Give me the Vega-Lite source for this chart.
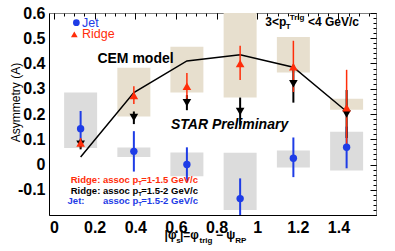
{
  "$schema": "https://vega.github.io/schema/vega-lite/v6.json",
  "width": 327,
  "height": 202,
  "autosize": {"type": "none"},
  "padding": {"left": 49, "top": 13, "right": 19, "bottom": 36},
  "background": "white",
  "config": {
    "font": "Liberation Sans",
    "view": {"stroke": "#808080", "strokeWidth": 1},
    "axis": {"grid": false}
  },
  "datasets": {
    "jet": [
      {"x": 0.131, "y": 0.142, "lo": 0.072, "hi": 0.212, "sysLo": 0.065, "sysHi": 0.285},
      {"x": 0.393, "y": 0.052, "lo": -0.028, "hi": 0.132, "sysLo": 0.03, "sysHi": 0.067},
      {"x": 0.654, "y": 0.0, "lo": -0.07, "hi": 0.068, "sysLo": -0.047, "sysHi": 0.048},
      {"x": 0.916, "y": -0.135, "lo": -0.2, "hi": -0.055, "sysLo": -0.18, "sysHi": 0.047},
      {"x": 1.178, "y": 0.025, "lo": -0.05, "hi": 0.107, "sysLo": -0.012, "sysHi": 0.055},
      {"x": 1.44, "y": 0.068, "lo": -0.015, "hi": 0.15, "sysLo": -0.024, "sysHi": 0.13}
    ],
    "ridgeA": [
      {"x": 0.131, "y": 0.085, "lo": 0.065, "hi": 0.105},
      {"x": 0.393, "y": 0.273, "lo": 0.24, "hi": 0.31, "sysLo": 0.19, "sysHi": 0.383},
      {"x": 0.654, "y": 0.31, "lo": 0.26, "hi": 0.362, "sysLo": 0.285, "sysHi": 0.466},
      {"x": 0.916, "y": 0.4, "lo": 0.335, "hi": 0.47, "sysLo": 0.265, "sysHi": 0.6},
      {"x": 1.178, "y": 0.387, "lo": 0.287, "hi": 0.49, "sysLo": 0.364, "sysHi": 0.505},
      {"x": 1.44, "y": 0.225, "lo": 0.075, "hi": 0.375, "sysLo": 0.217, "sysHi": 0.26}
    ],
    "ridgeB": [
      {"x": 0.131, "y": 0.08, "lo": 0.06, "hi": 0.1},
      {"x": 0.393, "y": 0.186, "lo": 0.16, "hi": 0.21},
      {"x": 0.654, "y": 0.245, "lo": 0.215, "hi": 0.275},
      {"x": 0.916, "y": 0.21, "lo": 0.155, "hi": 0.265},
      {"x": 1.178, "y": 0.32, "lo": 0.245, "hi": 0.395},
      {"x": 1.44, "y": 0.2, "lo": 0.105, "hi": 0.295}
    ],
    "cem": [
      {"x": 0.131, "y": 0.03},
      {"x": 0.393, "y": 0.285},
      {"x": 0.654, "y": 0.41},
      {"x": 0.916, "y": 0.435},
      {"x": 1.178, "y": 0.385},
      {"x": 1.44, "y": 0.21}
    ],
    "legendKeys": [
      {"series": "Jet", "x": 0.11, "y": 0.5616},
      {"series": "Ridge 1-1.5", "x": 0.1, "y": 0.515}
    ],
    "legendText": [
      {"series": "Jet", "text": "Jet", "x": 0.138, "y": 0.5616},
      {"series": "Ridge 1-1.5", "text": "Ridge", "x": 0.138, "y": 0.515}
    ],
    "modelText": [{"text": "CEM model", "x": 0.401, "y": 0.418}],
    "prelimText": [{"text": "STAR Preliminary", "x": 0.864, "y": 0.156}],
    "bigText": [
      {"text": "3<p", "x": 1.04, "y": 0.5485},
      {"text": "<4 GeV/c", "x": 1.25, "y": 0.5485},
      {"text": "|φ", "x": 0.544, "y": -0.295},
      {"text": "|=φ", "x": 0.62, "y": -0.295},
      {"text": "− ψ", "x": 0.797, "y": -0.295}
    ],
    "subText": [
      {"text": "T", "x": 1.14, "y": 0.5366},
      {"text": "Trig", "x": 1.16, "y": 0.5723},
      {"text": "s", "x": 0.601, "y": -0.311},
      {"text": "trig", "x": 0.716, "y": -0.311},
      {"text": "RP", "x": 0.892, "y": -0.311}
    ],
    "rowRight": [
      {"series": "Ridge 1-1.5", "text": "Ridge: assoc p", "x": 0.415, "y": -0.0614},
      {"series": "Ridge 1.5-2", "text": "Ridge: assoc p", "x": 0.415, "y": -0.105},
      {"series": "Jet", "text": "assoc p", "x": 0.415, "y": -0.1446}
    ],
    "rowLeft": [
      {"series": "Ridge 1-1.5", "text": "=1-1.5 GeV/c", "x": 0.429, "y": -0.0614},
      {"series": "Ridge 1.5-2", "text": "=1.5-2 GeV/c", "x": 0.429, "y": -0.105},
      {"series": "Jet", "text": "=1.5-2 GeV/c", "x": 0.429, "y": -0.1446},
      {"series": "Jet", "text": "Jet:", "x": 0.0668, "y": -0.1446}
    ],
    "rowSub": [
      {"series": "Ridge 1-1.5", "text": "T", "x": 0.415, "y": -0.0713},
      {"series": "Ridge 1.5-2", "text": "T", "x": 0.415, "y": -0.115},
      {"series": "Jet", "text": "T", "x": 0.415, "y": -0.1545}
    ]
  },
  "encoding": {
    "x": {"field": "x", "type": "quantitative", "scale": {"domain": [0, 1.56], "nice": false, "zero": false}, "axis": null},
    "y": {"field": "y", "type": "quantitative", "scale": {"domain": [-0.2, 0.6], "nice": false, "zero": false}, "axis": null}
  },
  "resolve": {"axis": {"x": "independent", "y": "independent"}},
  "layer": [
    {
      "data": {"name": "jet"},
      "mark": {"type": "bar", "orient": "vertical", "width": 33, "color": "#dcdcdc"},
      "encoding": {
        "x": {"field": "x", "type": "quantitative", "scale": {"domain": [0, 1.56], "nice": false, "zero": false},
          "axis": {"values": [0, 0.2, 0.4, 0.6, 0.8, 1, 1.2, 1.4], "format": ".1~f", "ticks": false, "labelFontSize": 16, "labelFontWeight": "bold", "labelColor": "black", "labelPadding": 4, "labelFlush": false, "labelOverlap": false, "domainColor": "black", "title": null, "grid": false}},
        "y": {"field": "sysLo", "type": "quantitative", "scale": {"domain": [-0.2, 0.6], "nice": false, "zero": false},
          "axis": {"values": [-0.1, 0, 0.1, 0.2, 0.3, 0.4, 0.5, 0.6], "format": ".1~f", "ticks": false, "labelFontSize": 16, "labelFontWeight": "bold", "labelColor": "black", "labelPadding": 4, "labelOverlap": false, "labelExpr": "replace(datum.label, '−', '-')", "domainColor": "black", "grid": false,
            "title": "Asymmetry (A)", "titleFontSize": 12, "titleFontWeight": "normal", "titleColor": "black", "titleX": -34, "titleY": 89, "titleAngle": -90, "titleAlign": "center", "titleBaseline": "middle"}},
        "y2": {"field": "sysHi"}
      }
    },
    {
      "data": {"name": "ridgeA"},
      "mark": {"type": "bar", "orient": "vertical", "width": 33, "color": "#e7dfce"},
      "encoding": {
        "x": {"field": "x", "type": "quantitative", "scale": {"domain": [0, 1.56], "nice": false, "zero": false},
          "axis": {"values": [0, 0.2, 0.4, 0.6, 0.8, 1, 1.2, 1.4], "labels": false, "domain": false, "ticks": true, "tickSize": -6, "tickColor": "black", "title": null, "grid": false}},
        "y": {"field": "sysLo", "type": "quantitative", "scale": {"domain": [-0.2, 0.6], "nice": false, "zero": false},
          "axis": {"values": [-0.2, -0.1, 0, 0.1, 0.2, 0.3, 0.4, 0.5, 0.6], "labels": false, "domain": false, "ticks": true, "tickSize": -6, "tickColor": "black", "title": null, "grid": false}},
        "y2": {"field": "sysHi"}
      }
    },
    {
      "data": {"values": [{"ref": 0}]},
      "mark": {"type": "rule", "color": "#777777", "strokeDash": [2, 3], "strokeWidth": 1},
      "encoding": {
        "x": {"datum": 0, "type": "quantitative", "scale": {"domain": [0, 1.56], "nice": false, "zero": false}, "axis": null},
        "x2": {"datum": 1.56},
        "y": {"datum": 0, "type": "quantitative", "scale": {"domain": [-0.2, 0.6], "nice": false, "zero": false}, "axis": null}
      }
    },
    {
      "data": {"name": "cem"},
      "mark": {"type": "line", "color": "black", "strokeWidth": 1.5},
      "encoding": {
        "x": {"field": "x", "type": "quantitative", "scale": {"domain": [0, 1.56], "nice": false, "zero": false},
          "axis": {"values": [0, 0.05, 0.1, 0.15, 0.2, 0.25, 0.3, 0.35, 0.4, 0.45, 0.5, 0.55, 0.6, 0.65, 0.7, 0.75, 0.8, 0.85, 0.9, 0.95, 1, 1.05, 1.1, 1.15, 1.2, 1.25, 1.3, 1.35, 1.4, 1.45, 1.5, 1.55], "labels": false, "domain": false, "ticks": true, "tickSize": -3, "tickColor": "black", "title": null, "grid": false}},
        "y": {"field": "y", "type": "quantitative", "scale": {"domain": [-0.2, 0.6], "nice": false, "zero": false},
          "axis": {"values": [-0.2, -0.18, -0.16, -0.14, -0.12, -0.1, -0.08, -0.06, -0.04, -0.02, 0, 0.02, 0.04, 0.06, 0.08, 0.1, 0.12, 0.14, 0.16, 0.18, 0.2, 0.22, 0.24, 0.26, 0.28, 0.3, 0.32, 0.34, 0.36, 0.38, 0.4, 0.42, 0.44, 0.46, 0.48, 0.5, 0.52, 0.54, 0.56, 0.58, 0.6], "labels": false, "domain": false, "ticks": true, "tickSize": -3, "tickColor": "black", "title": null, "grid": false}}
      }
    },
    {
      "data": {"name": "jet"},
      "mark": {"type": "rule", "color": "#1e3ce6", "strokeWidth": 2},
      "encoding": {"y": {"field": "lo", "type": "quantitative", "scale": {"domain": [-0.2, 0.6], "nice": false, "zero": false}, "axis": null}, "y2": {"field": "hi"}}
    },
    {
      "data": {"name": "ridgeB"},
      "mark": {"type": "rule", "color": "black", "strokeWidth": 2},
      "encoding": {"y": {"field": "lo", "type": "quantitative", "scale": {"domain": [-0.2, 0.6], "nice": false, "zero": false}, "axis": null}, "y2": {"field": "hi"}}
    },
    {
      "data": {"name": "ridgeA"},
      "mark": {"type": "rule", "color": "#ff2d0a", "strokeWidth": 1.5},
      "encoding": {"y": {"field": "lo", "type": "quantitative", "scale": {"domain": [-0.2, 0.6], "nice": false, "zero": false}, "axis": null}, "y2": {"field": "hi"}}
    },
    {
      "data": {"name": "jet"},
      "mark": {"type": "point", "shape": "circle", "filled": true, "color": "#1e3ce6", "size": 55, "opacity": 1}
    },
    {
      "data": {"name": "ridgeB"},
      "mark": {"type": "point", "shape": "triangle-down", "filled": true, "color": "black", "size": 75, "opacity": 1}
    },
    {
      "data": {"name": "ridgeA"},
      "mark": {"type": "point", "shape": "triangle-up", "filled": true, "color": "#ff2d0a", "size": 75, "opacity": 1}
    },
    {
      "data": {"name": "legendKeys"},
      "mark": {"type": "point", "filled": true, "size": 45, "opacity": 1},
      "encoding": {
        "color": {"field": "series", "type": "nominal", "scale": {"domain": ["Jet", "Ridge 1-1.5", "Ridge 1.5-2"], "range": ["#1e3ce6", "#ff2d0a", "#000000"]}, "legend": null},
        "shape": {"field": "series", "type": "nominal", "scale": {"domain": ["Jet", "Ridge 1-1.5"], "range": ["circle", "triangle-up"]}, "legend": null}
      }
    },
    {
      "data": {"name": "legendText"},
      "mark": {"type": "text", "align": "left", "baseline": "middle", "fontSize": 12.5},
      "encoding": {
        "text": {"field": "text"},
        "color": {"field": "series", "type": "nominal", "scale": {"domain": ["Jet", "Ridge 1-1.5", "Ridge 1.5-2"], "range": ["#1e3ce6", "#ff2d0a", "#000000"]}, "legend": null}
      }
    },
    {
      "data": {"name": "modelText"},
      "mark": {"type": "text", "align": "center", "baseline": "middle", "fontSize": 14, "fontWeight": "bold", "color": "black"},
      "encoding": {"text": {"field": "text"}}
    },
    {
      "data": {"name": "prelimText"},
      "mark": {"type": "text", "align": "center", "baseline": "middle", "fontSize": 14, "fontWeight": "bold", "fontStyle": "italic", "color": "black"},
      "encoding": {"text": {"field": "text"}}
    },
    {
      "data": {"name": "bigText"},
      "mark": {"type": "text", "align": "left", "baseline": "alphabetic", "fontSize": 12, "fontWeight": "bold", "color": "black"},
      "encoding": {"text": {"field": "text"}}
    },
    {
      "data": {"name": "subText"},
      "mark": {"type": "text", "align": "left", "baseline": "alphabetic", "fontSize": 8, "fontWeight": "bold", "color": "black"},
      "encoding": {"text": {"field": "text"}}
    },
    {
      "data": {"name": "rowRight"},
      "mark": {"type": "text", "align": "right", "baseline": "middle", "fontSize": 9.5, "fontWeight": "bold"},
      "encoding": {
        "text": {"field": "text"},
        "color": {"field": "series", "type": "nominal", "scale": {"domain": ["Jet", "Ridge 1-1.5", "Ridge 1.5-2"], "range": ["#1e3ce6", "#ff2d0a", "#000000"]}, "legend": null}
      }
    },
    {
      "data": {"name": "rowLeft"},
      "mark": {"type": "text", "align": "left", "baseline": "middle", "fontSize": 9.5, "fontWeight": "bold"},
      "encoding": {
        "text": {"field": "text"},
        "color": {"field": "series", "type": "nominal", "scale": {"domain": ["Jet", "Ridge 1-1.5", "Ridge 1.5-2"], "range": ["#1e3ce6", "#ff2d0a", "#000000"]}, "legend": null}
      }
    },
    {
      "data": {"name": "rowSub"},
      "mark": {"type": "text", "align": "left", "baseline": "middle", "fontSize": 6, "fontWeight": "bold"},
      "encoding": {
        "text": {"field": "text"},
        "color": {"field": "series", "type": "nominal", "scale": {"domain": ["Jet", "Ridge 1-1.5", "Ridge 1.5-2"], "range": ["#1e3ce6", "#ff2d0a", "#000000"]}, "legend": null}
      }
    }
  ]
}
